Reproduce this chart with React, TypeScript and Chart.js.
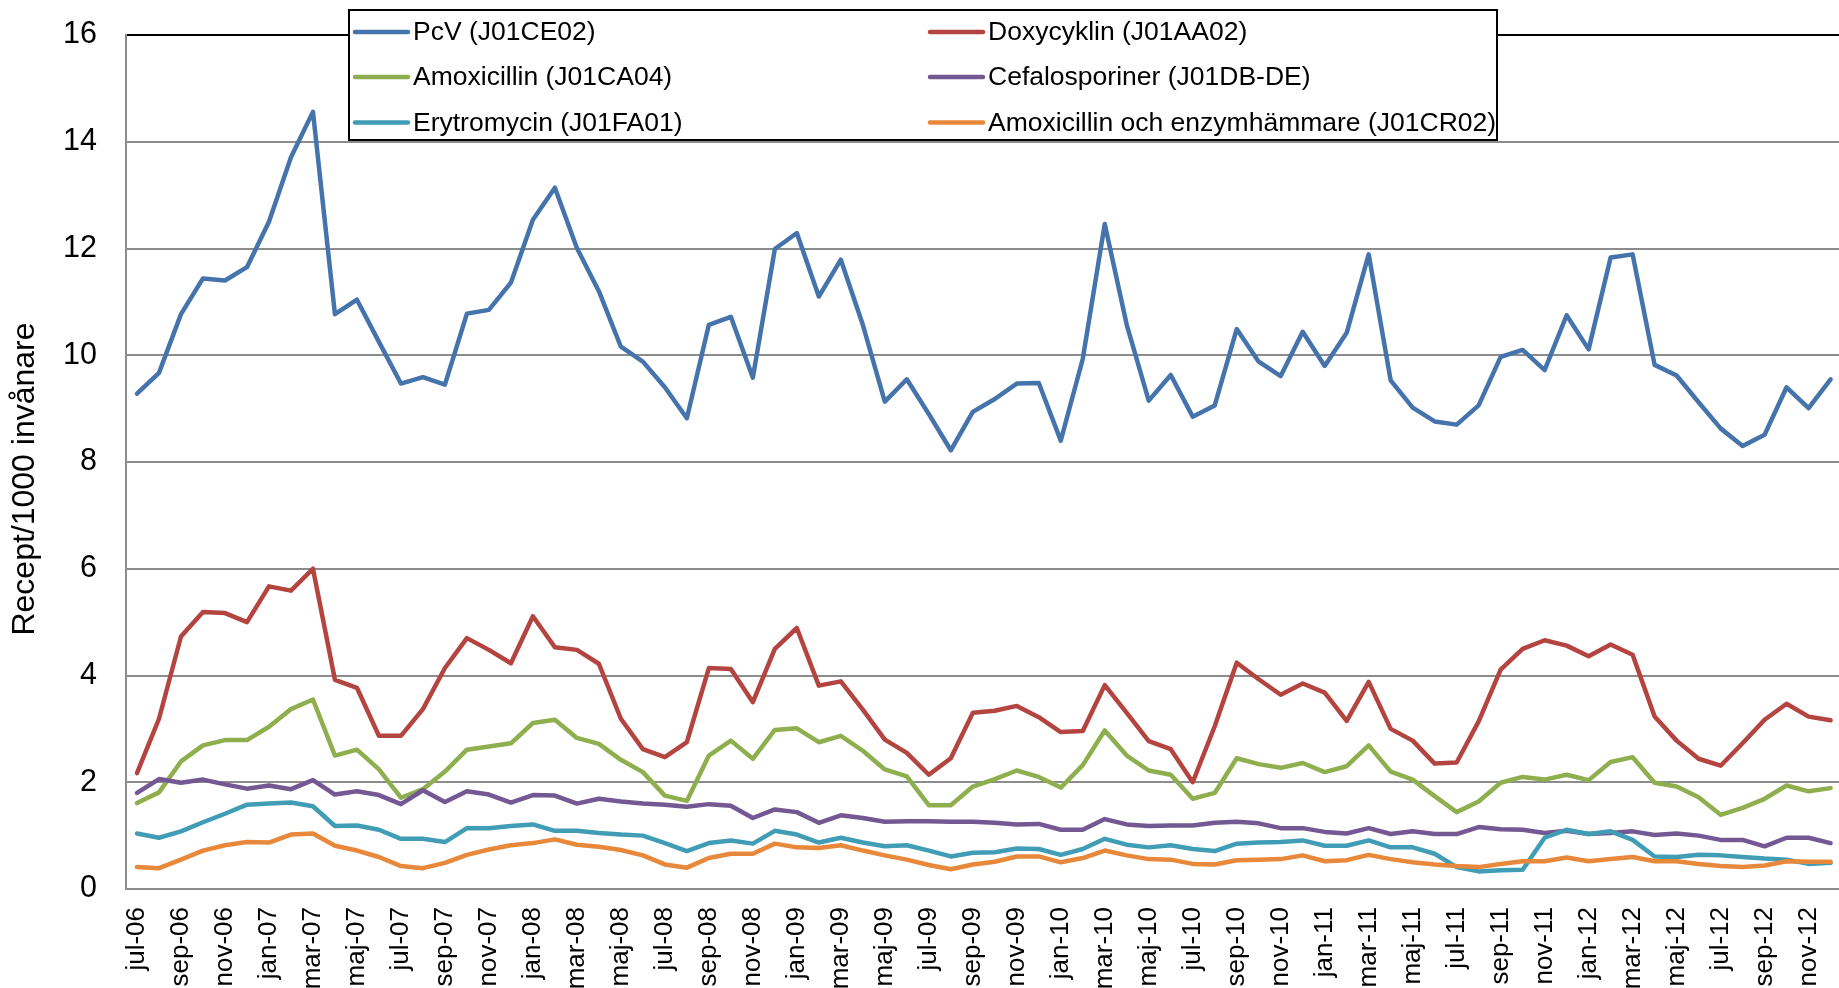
import React, { useEffect, useRef } from "react";
import { Chart, registerables } from "chart.js";

Chart.register(...registerables);

const LABELS = [
  "jul-06", "aug-06", "sep-06", "okt-06", "nov-06", "dec-06",
  "jan-07", "feb-07", "mar-07", "apr-07", "maj-07", "jun-07", "jul-07", "aug-07", "sep-07", "okt-07", "nov-07", "dec-07",
  "jan-08", "feb-08", "mar-08", "apr-08", "maj-08", "jun-08", "jul-08", "aug-08", "sep-08", "okt-08", "nov-08", "dec-08",
  "jan-09", "feb-09", "mar-09", "apr-09", "maj-09", "jun-09", "jul-09", "aug-09", "sep-09", "okt-09", "nov-09", "dec-09",
  "jan-10", "feb-10", "mar-10", "apr-10", "maj-10", "jun-10", "jul-10", "aug-10", "sep-10", "okt-10", "nov-10", "dec-10",
  "jan-11", "feb-11", "mar-11", "apr-11", "maj-11", "jun-11", "jul-11", "aug-11", "sep-11", "okt-11", "nov-11", "dec-11",
  "jan-12", "feb-12", "mar-12", "apr-12", "maj-12", "jun-12", "jul-12", "aug-12", "sep-12", "okt-12", "nov-12", "dec-12",
];

const PCV = [
  9.28, 9.67, 10.77, 11.44, 11.40, 11.65, 12.50, 13.71, 14.56, 10.77,
  11.04, 10.25, 9.47, 9.59, 9.45, 10.78, 10.85, 11.36, 12.54, 13.14,
  12.01, 11.20, 10.16, 9.88, 9.40, 8.82, 10.57, 10.72, 9.58, 11.99,
  12.29, 11.10, 11.79, 10.57, 9.13, 9.55, 8.90, 8.22, 8.94, 9.18,
  9.47, 9.48, 8.40, 9.93, 12.46, 10.57, 9.15, 9.63, 8.85, 9.06,
  10.49, 9.88, 9.61, 10.44, 9.80, 10.42, 11.89, 9.53, 9.02, 8.76,
  8.70, 9.06, 9.97, 10.10, 9.72, 10.75, 10.11, 11.83, 11.89, 9.82,
  9.62, 9.12, 8.63, 8.30, 8.51, 9.40, 9.01, 9.55,
];

const DOXY = [
  2.17, 3.19, 4.73, 5.19, 5.17, 5.00, 5.67, 5.59, 6.00, 3.92,
  3.77, 2.87, 2.87, 3.37, 4.14, 4.70, 4.48, 4.23, 5.11, 4.53,
  4.48, 4.22, 3.19, 2.62, 2.47, 2.75, 4.14, 4.12, 3.50, 4.50,
  4.89, 3.81, 3.89, 3.36, 2.80, 2.55, 2.14, 2.45, 3.30, 3.34,
  3.43, 3.22, 2.94, 2.96, 3.82, 3.30, 2.77, 2.62, 2.00, 3.05,
  4.24, 3.93, 3.64, 3.85, 3.68, 3.15, 3.88, 3.00, 2.78, 2.35,
  2.37, 3.14, 4.11, 4.50, 4.66, 4.56, 4.36, 4.58, 4.39, 3.23,
  2.78, 2.44, 2.31, 2.73, 3.17, 3.47, 3.23, 3.16,
];

const AMOX = [
  1.61, 1.81, 2.39, 2.69, 2.79, 2.79, 3.04, 3.37, 3.55, 2.50,
  2.61, 2.24, 1.71, 1.87, 2.20, 2.61, 2.67, 2.73, 3.11, 3.17,
  2.83, 2.72, 2.42, 2.19, 1.75, 1.65, 2.50, 2.78, 2.44, 2.98,
  3.01, 2.75, 2.87, 2.59, 2.24, 2.11, 1.57, 1.57, 1.92, 2.06,
  2.22, 2.10, 1.90, 2.32, 2.97, 2.50, 2.22, 2.14, 1.69, 1.80,
  2.45, 2.34, 2.27, 2.36, 2.19, 2.30, 2.69, 2.20, 2.05, 1.74,
  1.44, 1.64, 1.99, 2.10, 2.05, 2.14, 2.04, 2.38, 2.47, 1.99,
  1.92, 1.72, 1.39, 1.52, 1.69, 1.94, 1.83, 1.89,
];

const CEFALO = [
  1.80, 2.06, 1.99, 2.05, 1.96, 1.88, 1.94, 1.87, 2.04, 1.77,
  1.83, 1.76, 1.59, 1.85, 1.63, 1.83, 1.77, 1.62, 1.76, 1.75,
  1.60, 1.69, 1.64, 1.60, 1.58, 1.54, 1.59, 1.56, 1.33, 1.49,
  1.44, 1.24, 1.38, 1.33, 1.26, 1.27, 1.27, 1.26, 1.26, 1.24,
  1.21, 1.22, 1.11, 1.11, 1.31, 1.21, 1.18, 1.19, 1.19, 1.24,
  1.26, 1.23, 1.14, 1.14, 1.07, 1.04, 1.14, 1.03, 1.08, 1.03,
  1.03, 1.16, 1.12, 1.11, 1.05, 1.09, 1.03, 1.05, 1.08, 1.01,
  1.04, 1.00, 0.92, 0.92, 0.80, 0.96, 0.96, 0.86,
];

const ERYTRO = [
  1.04, 0.96, 1.08, 1.25, 1.41, 1.58, 1.60, 1.62, 1.55, 1.18,
  1.19, 1.11, 0.94, 0.94, 0.88, 1.14, 1.14, 1.18, 1.21, 1.09,
  1.09, 1.05, 1.02, 1.00, 0.86, 0.71, 0.86, 0.91, 0.85, 1.09,
  1.02, 0.87, 0.96, 0.87, 0.80, 0.82, 0.72, 0.61, 0.68, 0.69,
  0.76, 0.75, 0.64, 0.75, 0.94, 0.83, 0.78, 0.82, 0.75, 0.71,
  0.85, 0.87, 0.88, 0.91, 0.81, 0.81, 0.91, 0.78, 0.78, 0.66,
  0.41, 0.33, 0.35, 0.36, 0.96, 1.11, 1.03, 1.08, 0.92, 0.61,
  0.60, 0.64, 0.63, 0.60, 0.57, 0.55, 0.47, 0.49,
];

const AMOX_ENZ = [
  0.41, 0.39, 0.55, 0.72, 0.82, 0.88, 0.87, 1.02, 1.04, 0.81,
  0.72, 0.60, 0.43, 0.39, 0.49, 0.64, 0.74, 0.82, 0.86, 0.93,
  0.83, 0.79, 0.73, 0.63, 0.46, 0.40, 0.58, 0.66, 0.66, 0.85,
  0.78, 0.77, 0.82, 0.72, 0.63, 0.55, 0.45, 0.37, 0.46, 0.51,
  0.61, 0.61, 0.50, 0.58, 0.72, 0.63, 0.56, 0.55, 0.47, 0.46,
  0.54, 0.55, 0.56, 0.63, 0.52, 0.54, 0.64, 0.56, 0.50, 0.46,
  0.43, 0.41, 0.47, 0.52, 0.52, 0.59, 0.52, 0.56, 0.60, 0.52,
  0.52, 0.47, 0.43, 0.41, 0.44, 0.52, 0.51, 0.51,
];

const SERIES_NAMES = [
  "PcV (J01CE02)",
  "Doxycyklin (J01AA02)",
  "Amoxicillin (J01CA04)",
  "Cefalosporiner (J01DB-DE)",
  "Erytromycin (J01FA01)",
  "Amoxicillin och enzymhämmare (J01CR02)",
];
const SERIES_DATA = [PCV, DOXY, AMOX, CEFALO, ERYTRO, AMOX_ENZ];
const SERIES_COLORS = ["#4573AB", "#B4443F", "#8FAF4E", "#735894", "#409DB5", "#E8883A"];

const Y_TICKS = [0, 2, 4, 6, 8, 10, 12, 14, 16];
const Y_TITLE = "Recept/1000 invånare";

const FONT = '"Liberation Sans", Arial, sans-serif';

const boxLegend = {
  id: "boxLegend",
  afterDraw(chart: any) {
    const ctx = chart.ctx as CanvasRenderingContext2D;
    ctx.save();
    ctx.fillStyle = "#ffffff";
    ctx.fillRect(348, 9, 1150, 132);
    ctx.strokeStyle = "#000000";
    ctx.lineWidth = 2;
    ctx.strokeRect(349, 10, 1148, 130);
    const colX = [355, 930];
    const rowY = [32, 77, 122.5];
    ctx.font = `26.5px ${FONT}`;
    ctx.textBaseline = "middle";
    ctx.textAlign = "left";
    chart.data.datasets.forEach((ds: any, k: number) => {
      const col = k % 2;
      const row = Math.floor(k / 2);
      const x = colX[col];
      const y = rowY[row];
      ctx.strokeStyle = ds.borderColor;
      ctx.lineWidth = 4.5;
      ctx.lineCap = "round";
      ctx.beginPath();
      ctx.moveTo(x, y);
      ctx.lineTo(x + 53, y);
      ctx.stroke();
      ctx.fillStyle = "#000000";
      ctx.fillText(ds.label, x + 58, y + 1);
    });
    ctx.restore();
  },
};

const axisTitle = {
  id: "axisTitle",
  afterDraw(chart: any) {
    const ctx = chart.ctx as CanvasRenderingContext2D;
    ctx.save();
    ctx.translate(25, 479);
    ctx.rotate(-Math.PI / 2);
    ctx.font = `32px ${FONT}`;
    ctx.fillStyle = "#000000";
    ctx.textAlign = "center";
    ctx.textBaseline = "middle";
    ctx.fillText(Y_TITLE, 0, 0);
    ctx.restore();
  },
};

export default function App() {
  const ref = useRef<HTMLCanvasElement | null>(null);

  useEffect(() => {
    if (!ref.current) return;
    const datasets = SERIES_NAMES.map((name, k) => ({
      label: name,
      data: SERIES_DATA[k],
      borderColor: SERIES_COLORS[k],
      backgroundColor: SERIES_COLORS[k],
      borderWidth: 4.5,
      pointRadius: 0,
      tension: 0,
      fill: false,
      borderJoinStyle: "round" as const,
      borderCapStyle: "round" as const,
      order: SERIES_NAMES.length - k,
    }));

    const chart = new Chart(ref.current, {
      type: "line",
      data: { labels: LABELS, datasets },
      options: {
        responsive: false,
        animation: false,
        devicePixelRatio: 1,
        layout: { padding: { top: 35, right: 36, bottom: 0, left: 0 } },
        plugins: {
          legend: { display: false },
          tooltip: { enabled: false },
        },
        scales: {
          x: {
            type: "category",
            offset: true,
            grid: { display: true, drawOnChartArea: false, drawTicks: false },
            border: { display: true, color: "#8c8c8c", width: 2 },
            ticks: {
              autoSkip: false,
              maxRotation: 90,
              minRotation: 90,
              padding: 18,
              color: "#000000",
              font: { family: FONT, size: 26 },
              callback: (_v: any, i: number) => (i % 2 === 0 ? LABELS[i] : ""),
            },
            afterFit: (s: any) => {
              s.height = 111;
            },
          },
          y: {
            min: Y_TICKS[0],
            max: Y_TICKS[Y_TICKS.length - 1],
            afterBuildTicks: (s: any) => {
              s.ticks = Y_TICKS.map((v) => ({ value: v }));
            },
            ticks: {
              padding: 29,
              color: "#000000",
              font: { family: FONT, size: 30.5 },
            },
            grid: {
              color: (c: any) => (c.tick && c.tick.value === 16 ? "#000000" : "#8c8c8c"),
              lineWidth: 2,
              drawTicks: false,
            },
            border: { display: true, color: "#8c8c8c", width: 2 },
            title: { display: false, text: Y_TITLE },
            afterFit: (s: any) => {
              s.width = 126;
              s.paddingTop = 0;
              s.paddingBottom = 0;
            },
          },
        },
      },
      plugins: [boxLegend, axisTitle],
    });
    return () => chart.destroy();
  }, []);

  return (
    <div
      style={{
        position: "fixed",
        left: 0,
        top: 0,
        width: 1839,
        height: 988,
        overflow: "hidden",
        background: "#ffffff",
      }}
    >
      <canvas ref={ref} width={1880} height={1000} style={{ width: 1880, height: 1000, display: "block" }} />
    </div>
  );
}
